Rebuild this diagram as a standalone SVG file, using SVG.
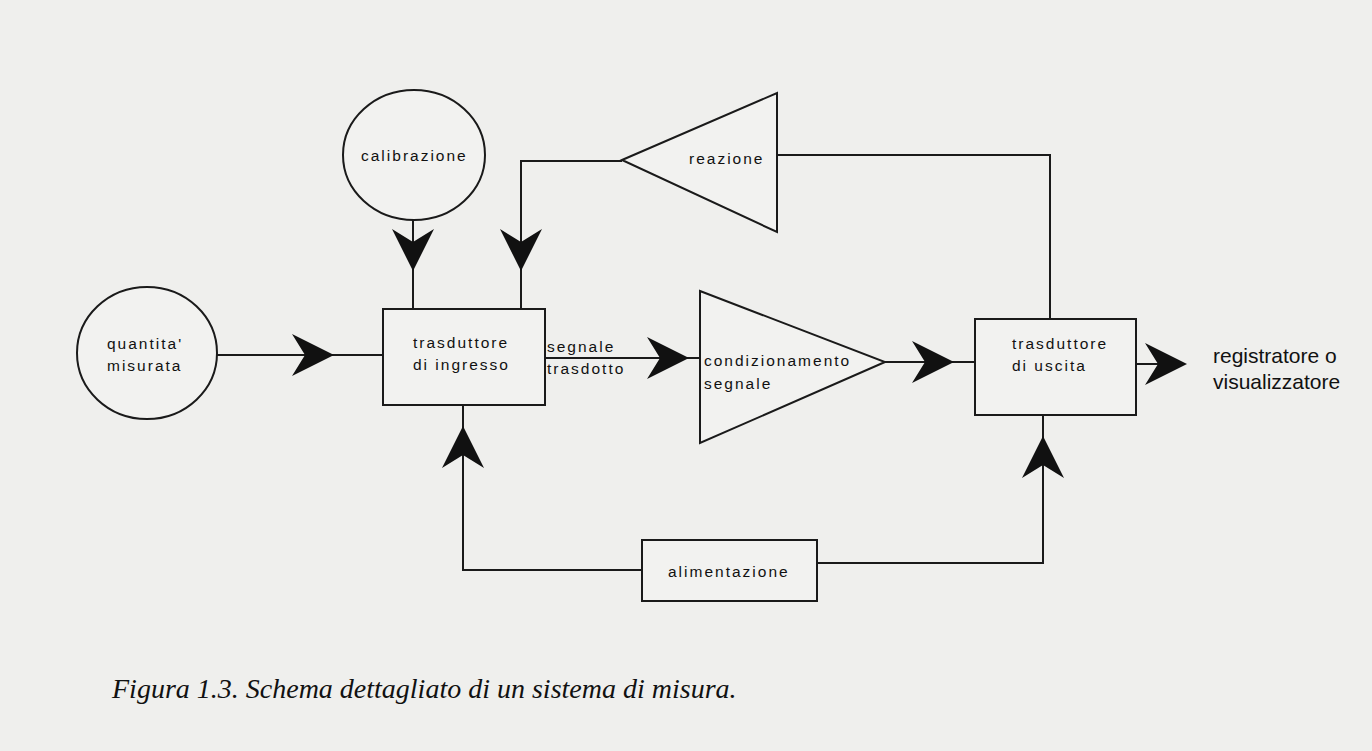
<svg xmlns="http://www.w3.org/2000/svg" xmlns:xlink="http://www.w3.org/1999/xlink" width="1372" height="751" viewBox="0 0 1372 751">
<style>
.sh{fill:#f2f2f0;stroke:#1a1a1a;stroke-width:2}
.ln{fill:none;stroke:#1a1a1a;stroke-width:2}
.t{font-family:"Liberation Sans",Arial,sans-serif;font-size:15.5px;letter-spacing:2px;fill:#111}
.tb{font-family:"Liberation Sans",Arial,sans-serif;font-size:21px;fill:#111}
.cap{font-family:"Liberation Serif","Times New Roman",serif;font-style:italic;font-size:28px;fill:#111}
.ah{fill:#111}
</style>
<defs>
<path id="ah" d="M0,0 L-42,-21 L-29,0 L-42,21 Z"/>
</defs>
<rect width="1372" height="751" fill="#efefed"/>
<g id="connectors">
<path class="ln" d="M217,355 H383"/>
<path class="ln" d="M413,220 V309"/>
<path class="ln" d="M521,309 V161 H622"/>
<path class="ln" d="M777,155 H1050 V319"/>
<path class="ln" d="M545,358 H700"/>
<path class="ln" d="M885,362 H975"/>
<path class="ln" d="M1136,364 H1185"/>
<path class="ln" d="M642,570 H463 V405"/>
<path class="ln" d="M817,563 H1043 V415"/>
<use href="#ah" class="ah" transform="translate(334,355)"/>
<use href="#ah" class="ah" transform="translate(413,271) rotate(90)"/>
<use href="#ah" class="ah" transform="translate(521,271) rotate(90)"/>
<use href="#ah" class="ah" transform="translate(689,358)"/>
<use href="#ah" class="ah" transform="translate(954,362)"/>
<use href="#ah" class="ah" transform="translate(1187,364)"/>
<use href="#ah" class="ah" transform="translate(463,426) rotate(-90)"/>
<use href="#ah" class="ah" transform="translate(1043,436) rotate(-90)"/>
</g>
<g id="quantita">
<ellipse class="sh" cx="147" cy="353" rx="70" ry="66"/>
<text class="t" x="107" y="349">quantita'</text>
<text class="t" x="107" y="371">misurata</text>
</g>
<g id="calibrazione">
<ellipse class="sh" cx="414" cy="155" rx="71" ry="65"/>
<text class="t" x="361" y="161">calibrazione</text>
</g>
<g id="trasduttore-ingresso">
<rect class="sh" x="383" y="309" width="162" height="96"/>
<text class="t" x="413" y="348">trasduttore</text>
<text class="t" x="413" y="370">di ingresso</text>
</g>
<g id="segnale-label">
<text class="t" x="547" y="352">segnale</text>
<text class="t" x="547" y="374">trasdotto</text>
</g>
<g id="reazione">
<path class="sh" d="M622,160 L777,93 L777,232 Z"/>
<text class="t" x="689" y="164">reazione</text>
</g>
<g id="condizionamento">
<path class="sh" d="M700,291 L885,362 L700,443 Z"/>
<text class="t" x="704" y="366">condizionamento</text>
<text class="t" x="704" y="389">segnale</text>
</g>
<g id="trasduttore-uscita">
<rect class="sh" x="975" y="319" width="161" height="96"/>
<text class="t" x="1012" y="349">trasduttore</text>
<text class="t" x="1012" y="371">di uscita</text>
</g>
<g id="registratore">
<text class="tb" x="1213" y="363">registratore o</text>
<text class="tb" x="1213" y="389">visualizzatore</text>
</g>
<g id="alimentazione">
<rect class="sh" x="642" y="540" width="175" height="61"/>
<text class="t" x="668" y="577">alimentazione</text>
</g>
<text class="cap" x="112" y="698">Figura 1.3. Schema dettagliato di un sistema di misura.</text>
</svg>
